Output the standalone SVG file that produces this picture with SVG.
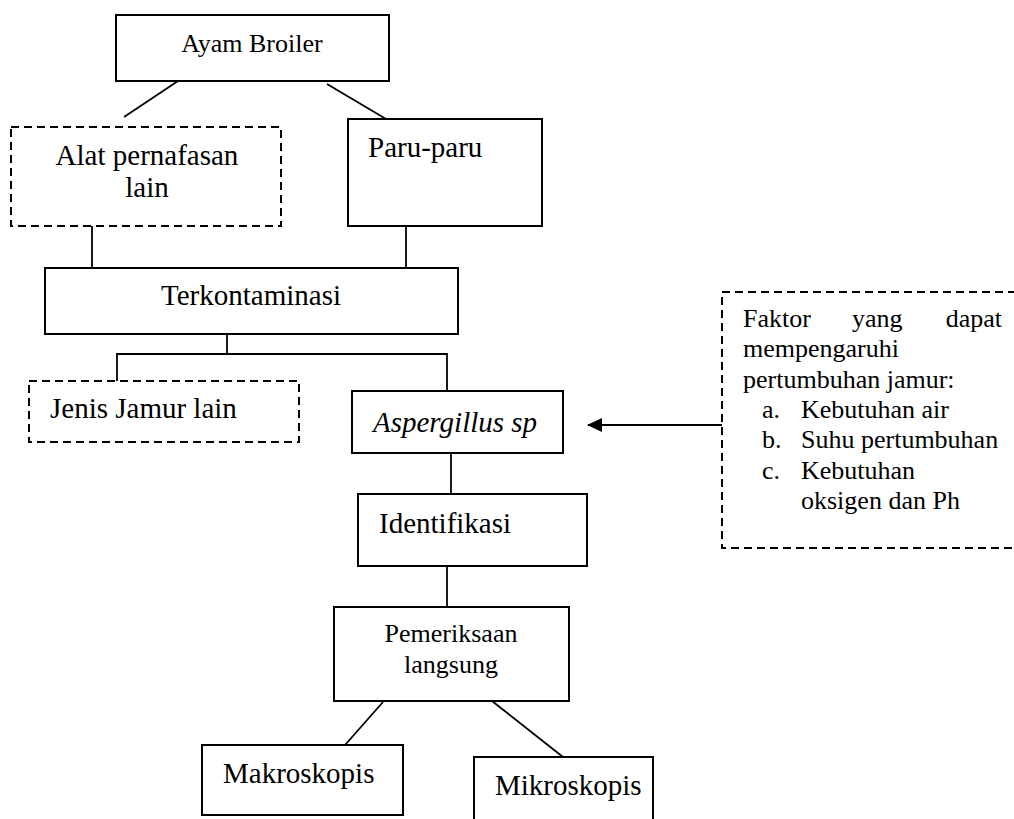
<svg xmlns="http://www.w3.org/2000/svg" width="1014" height="819" viewBox="0 0 1014 819">
<style>
.box{fill:#fff;stroke:#000;stroke-width:2}
.dash{fill:#fff;stroke:#000;stroke-width:2;stroke-dasharray:8 5}
.con{fill:none;stroke:#000;stroke-width:1.8}
text{font-family:"Liberation Serif","Times New Roman",serif;fill:#000}
.b{font-size:29px}
.s{font-size:26px}
.c{text-anchor:middle}
</style>
<defs>
<marker id="ah" markerWidth="15" markerHeight="14" refX="14" refY="7" orient="auto" markerUnits="userSpaceOnUse">
<path d="M0,0 L15,7 L0,14 Z" fill="#000"/>
</marker>
</defs>
<rect width="1014" height="819" fill="#fff"/>
<g id="connectors">
<line class="con" x1="178" y1="81" x2="124" y2="117"/>
<line class="con" x1="327" y1="84" x2="386" y2="119"/>
<line class="con" x1="92" y1="226" x2="92" y2="268"/>
<line class="con" x1="406" y1="226" x2="406" y2="268"/>
<path class="con" d="M227,334 V354 M117,381 V354 H447 V391"/>
<line class="con" x1="451" y1="453" x2="451" y2="494"/>
<line class="con" x1="447" y1="566" x2="447" y2="607"/>
<line class="con" x1="383" y1="702" x2="345" y2="745"/>
<line class="con" x1="492" y1="701" x2="563" y2="757"/>
<line class="con" x1="722" y1="425" x2="588" y2="425" marker-end="url(#ah)"/>
</g>
<g id="ayam">
<rect class="box" x="116" y="15" width="273" height="66"/>
<text class="s c" x="252" y="52">Ayam Broiler</text>
</g>
<g id="alat">
<rect class="dash" x="11" y="127" width="270" height="99"/>
<text class="b c" x="147" y="165">Alat pernafasan</text>
<text class="b c" x="147" y="197">lain</text>
</g>
<g id="paru">
<rect class="box" x="348" y="119" width="194" height="107"/>
<text class="b" x="368" y="157">Paru-paru</text>
</g>
<g id="terkontaminasi">
<rect class="box" x="45" y="268" width="413" height="66"/>
<text class="b c" x="251" y="305">Terkontaminasi</text>
</g>
<g id="jenis">
<rect class="dash" x="29" y="381" width="270" height="61"/>
<text class="b" x="50" y="418">Jenis Jamur lain</text>
</g>
<g id="aspergillus">
<rect class="box" x="352" y="391" width="211" height="62"/>
<text class="b" x="373" y="432" font-style="italic">Aspergillus sp</text>
</g>
<g id="identifikasi">
<rect class="box" x="358" y="494" width="229" height="72"/>
<text class="b" x="379" y="533">Identifikasi</text>
</g>
<g id="pemeriksaan">
<rect class="box" x="334" y="607" width="235" height="94"/>
<text class="s c" x="451" y="642">Pemeriksaan</text>
<text class="s c" x="451" y="673">langsung</text>
</g>
<g id="makroskopis">
<rect class="box" x="202" y="745" width="201" height="70"/>
<text class="b" x="223" y="783">Makroskopis</text>
</g>
<g id="mikroskopis">
<rect class="box" x="474" y="757" width="179" height="80"/>
<text class="b" x="495" y="795">Mikroskopis</text>
</g>
<g id="faktor">
<path class="dash" fill="none" d="M1016,292 H722 V548 H1016"/>
<text class="s" x="743" y="327">Faktor</text>
<text class="s" x="852" y="327">yang</text>
<text class="s" x="1002" y="327" text-anchor="end">dapat</text>
<text class="s" x="743" y="357">mempengaruhi</text>
<text class="s" x="743" y="388">pertumbuhan jamur:</text>
<text class="s" x="762" y="418">a.</text>
<text class="s" x="801" y="418">Kebutuhan air</text>
<text class="s" x="762" y="448">b.</text>
<text class="s" x="801" y="448">Suhu pertumbuhan</text>
<text class="s" x="762" y="479">c.</text>
<text class="s" x="801" y="479">Kebutuhan</text>
<text class="s" x="801" y="509">oksigen dan Ph</text>
</g>
</svg>
